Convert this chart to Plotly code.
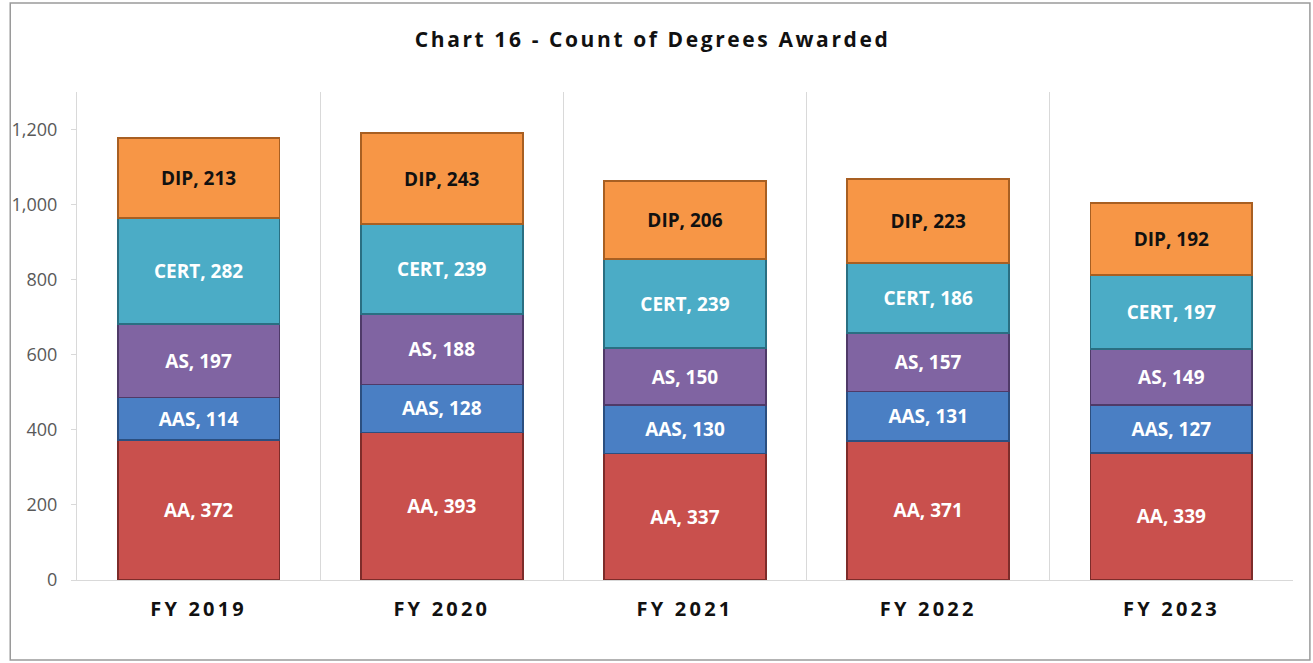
import plotly.graph_objects as go

years = ["FY 2019", "FY 2020", "FY 2021", "FY 2022", "FY 2023"]
aa = [372, 393, 337, 371, 339]
aas = [114, 128, 130, 131, 127]
as_ = [197, 188, 150, 157, 149]
cert = [282, 239, 239, 186, 197]
dip = [213, 243, 206, 223, 192]

series = [
    ("AA", aa, "#C9504D", "#7d2c2a", "white"),
    ("AAS", aas, "#4A7FC4", "#2b4f80", "white"),
    ("AS", as_, "#8064A2", "#4f3a68", "white"),
    ("CERT", cert, "#4BACC6", "#2a6f82", "white"),
    ("DIP", dip, "#F79646", "#a85f22", "#111111"),
]

fig = go.Figure()
for name, vals, col, edge, tcol in series:
    fig.add_trace(go.Bar(
        x=years, y=vals, name=name,
        marker=dict(color=col, line=dict(color=edge, width=1.8)),
        texttemplate=name + ", %{y}",
        textposition="inside", insidetextanchor="middle",
        textangle=0, constraintext="none",
        textfont=dict(family="Open Sans", size=19, color=tcol, weight="bold"),
        hoverinfo="skip",
    ))

fig.update_layout(
    barmode="stack",
    bargap=0.335,
    width=1313, height=663,
    margin=dict(l=72, r=20, t=92, b=83),
    paper_bgcolor="white", plot_bgcolor="white",
    showlegend=False,
    title=dict(text="Chart 16 - Count of Degrees Awarded",
               x=0.497, xref="container", xanchor="center",
               y=0.94, yref="container", yanchor="middle",
               font=dict(family="Open Sans", size=21, color="#111111", weight="bold")),
    xaxis=dict(
        type="category", tickson="boundaries", showgrid=True,
        gridcolor="#D9D9D9", gridwidth=1,
        showline=True, linecolor="#D9D9D9", linewidth=1,
        ticks="", range=[-0.5, 4.5],
        tickfont=dict(family="Open Sans", size=20, color="#111111", weight="bold"),
        ticklabelstandoff=11,
    ),
    yaxis=dict(
        range=[0, 1300], tickvals=[0, 200, 400, 600, 800, 1000, 1200],
        tickformat=",d", showgrid=False, zeroline=False,
        showline=True, linecolor="#D9D9D9", linewidth=1,
        ticks="outside", ticklen=5, tickcolor="#D9D9D9",
        tickfont=dict(family="Open Sans", size=18, color="#595959"),
        ticklabelstandoff=10,
    ),
)

fig.add_shape(type="rect", xref="paper", yref="paper",
              x0=-0.0549, x1=1.0139, y0=-0.1639, y1=1.1824,
              line=dict(color="#9A9A9A", width=1.5), layer="below")

post = """
(function(){
  document.body.style.margin = '0';
  document.documentElement.style.margin = '0';
  var gd = document.getElementById('{plot_id}');
  function sp(){
    var t = gd.querySelectorAll('.gtitle');
    t.forEach(function(e){ e.style.letterSpacing = '2.6px'; });
    var x = gd.querySelectorAll('.xtick text');
    x.forEach(function(e){ e.style.letterSpacing = '3.2px'; });
  }
  sp();
  if (gd.on) gd.on('plotly_afterplot', sp);
})();
"""
fig.write_html("out.html", post_script=post, config={"displayModeBar": False})
